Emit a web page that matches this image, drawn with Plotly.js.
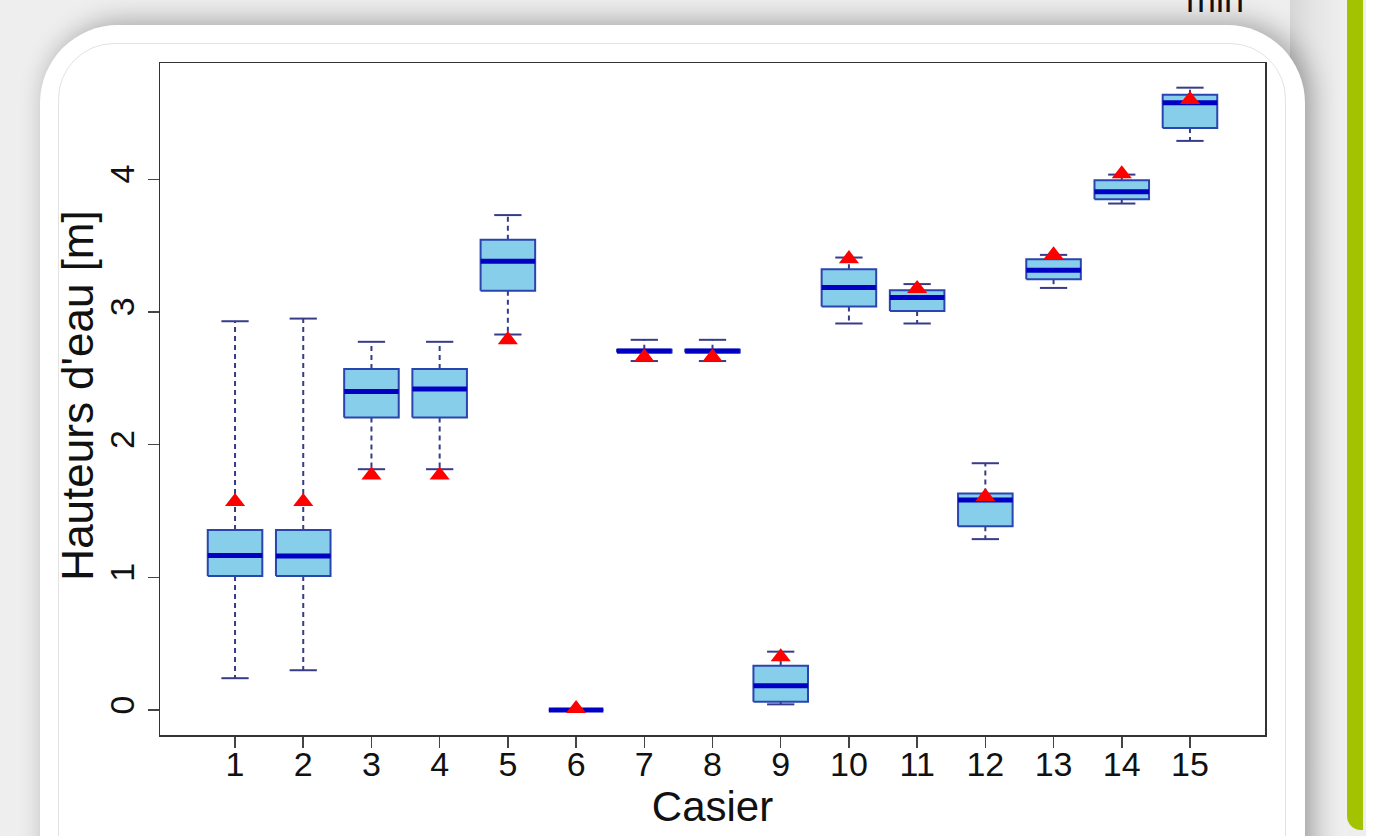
<!DOCTYPE html>
<html>
<head>
<meta charset="utf-8">
<script src="https://cdn.plot.ly/plotly-3.0.1.min.js"></script>
<style>
  html, body { margin: 0; padding: 0; width: 1385px; height: 836px; overflow: hidden; background: #eeeeee; }
  #bgright { position: absolute; left: 1366px; top: 0; width: 19px; height: 836px; background: #ffffff; }
  #gap { position: absolute; left: 1290px; top: 0; width: 57px; height: 836px;
         background: linear-gradient(to right, #d6d6d6, #e4e4e4 40%, #f0f0f0); }
  #card { position: absolute; left: 40px; top: 25px; width: 1265px; height: 920px; background: #ffffff;
          border-radius: 78px; box-shadow: 6px -4px 26px rgba(0,0,0,0.30); }
  #inner { position: absolute; left: 58px; top: 43px; width: 1226px; height: 900px;
           border: 1px solid #e3e3e3; border-radius: 56px; }
  #green { position: absolute; left: 1347px; top: -10px; width: 16px; height: 840px; background: #a3c300;
           border-radius: 0 0 0 14px; }
  #min { position: absolute; left: 1186px; top: -20px; font-family: "Liberation Sans", Arial, sans-serif;
         font-size: 36px; line-height: 40px; color: #111; }
  #chart { position: absolute; left: 0; top: 0; width: 1385px; height: 836px; }
</style>
</head>
<body>
<div id="gap"></div>
<div id="bgright"></div>
<div id="card"></div>
<div id="inner"></div>
<div id="green"></div>
<div id="min">min</div>
<div id="chart"></div>
<script>
// ---- data ----
const casier        = [1, 2, 3, 4, 5, 6, 7, 8, 9, 10, 11, 12, 13, 14, 15];
const upperWhisker  = [2.93, 2.95, 2.775, 2.775, 3.73, 0, 2.79, 2.79, 0.44, 3.41, 3.21, 1.86, 3.43, 4.035, 4.69];
const q3            = [1.356, 1.356, 2.57, 2.57, 3.545, 0, 2.715, 2.715, 0.334, 3.322, 3.164, 1.632, 3.397, 3.992, 4.637];
const median        = [1.165, 1.16, 2.40, 2.42, 3.382, 0, 2.705, 2.705, 0.183, 3.184, 3.109, 1.582, 3.314, 3.905, 4.577];
const q1            = [1.01, 1.01, 2.205, 2.205, 3.159, 0, 2.695, 2.695, 0.063, 3.041, 3.008, 1.386, 3.247, 3.849, 4.387];
const lowerWhisker  = [0.24, 0.30, 1.815, 1.815, 2.83, 0, 2.63, 2.63, 0.043, 2.913, 2.913, 1.288, 3.181, 3.817, 4.289];
const triangleVal   = [1.57, 1.57, 1.77, 1.77, 2.79, 0.01, 2.66, 2.66, 0.40, 3.40, 3.175, 1.607, 3.43, 4.04, 4.60];
const xTickLabels   = ["1","2","3","4","5","6","7","8","9","10","11","12","13","14","15"];
const yTickVals     = [0, 1, 2, 3, 4];
const yTickLabels   = ["0", "1", "2", "3", "4"];
const xTitle = "Casier";
const yTitle = "Hauteurs d'eau [m]";

// ---- build geometry in data space ----
const halfBox = 0.4, halfStaple = 0.2;
const wx = [], wy = [], sx = [], sy = [], bx = [], by = [], mx = [], my = [];
casier.forEach((c, i) => {
  wx.push(c, c, null, c, c, null);
  wy.push(q3[i], upperWhisker[i], null, q1[i], lowerWhisker[i], null);
  sx.push(c - halfStaple, c + halfStaple, null, c - halfStaple, c + halfStaple, null);
  sy.push(upperWhisker[i], upperWhisker[i], null, lowerWhisker[i], lowerWhisker[i], null);
  bx.push(c - halfBox, c + halfBox, c + halfBox, c - halfBox, c - halfBox, null);
  by.push(q1[i], q1[i], q3[i], q3[i], q1[i], null);
  mx.push(c - halfBox, c + halfBox, null);
  my.push(median[i], median[i], null);
});

const traces = [
  { x: wx, y: wy, mode: 'lines', line: { color: '#383c88', width: 2, dash: '5px,4px' }, hoverinfo: 'skip', showlegend: false },
  { x: sx, y: sy, mode: 'lines', line: { color: '#383c88', width: 2 }, hoverinfo: 'skip', showlegend: false },
  { x: bx, y: by, mode: 'lines', fill: 'toself', fillcolor: '#87ceeb', line: { color: '#2a44b0', width: 2 }, hoverinfo: 'skip', showlegend: false },
  { x: mx, y: my, mode: 'lines', line: { color: '#0000c4', width: 5 }, hoverinfo: 'skip', showlegend: false },
  { x: casier, y: triangleVal, mode: 'markers', marker: { symbol: 'triangle-up', size: 17.5, color: '#ff0000', line: { width: 0 } }, showlegend: false }
];

const fontFam = '"Liberation Sans", Arial, Helvetica, sans-serif';
const layout = {
  width: 1385, height: 836,
  margin: { l: 160, r: 120, t: 63, b: 101 },
  paper_bgcolor: 'rgba(0,0,0,0)',
  plot_bgcolor: '#ffffff',
  showlegend: false,
  xaxis: {
    range: [-0.1, 16.1], tickmode: 'array', tickvals: casier, ticktext: xTickLabels,
    ticks: 'outside', ticklen: 11, tickwidth: 1.5, tickcolor: '#444', ticklabelstandoff: -12,
    showline: true, mirror: true, linecolor: '#333', linewidth: 1.5,
    showgrid: false, zeroline: false,
    tickfont: { family: fontFam, size: 34, color: '#111' },
    title: { text: xTitle, font: { family: fontFam, size: 42, color: '#111' }, standoff: 1 }
  },
  yaxis: {
    range: [-0.188, 4.876], tickmode: 'array', tickvals: yTickVals, ticktext: yTickLabels,
    ticks: 'outside', ticklen: 11, tickwidth: 1.5, tickcolor: '#444', tickangle: -90,
    showline: true, mirror: true, linecolor: '#333', linewidth: 1.5,
    showgrid: false, zeroline: false,
    tickfont: { family: fontFam, size: 34, color: '#111' }
  },
  annotations: [{
    text: yTitle, textangle: -90, showarrow: false,
    xref: 'paper', x: 0, xanchor: 'center', xshift: -82,
    yref: 'paper', y: 0.505, yanchor: 'middle',
    font: { family: fontFam, size: 44, color: '#111' }
  }]
};

Plotly.newPlot('chart', traces, layout, { displayModeBar: false, staticPlot: true });
</script>
</body>
</html>
